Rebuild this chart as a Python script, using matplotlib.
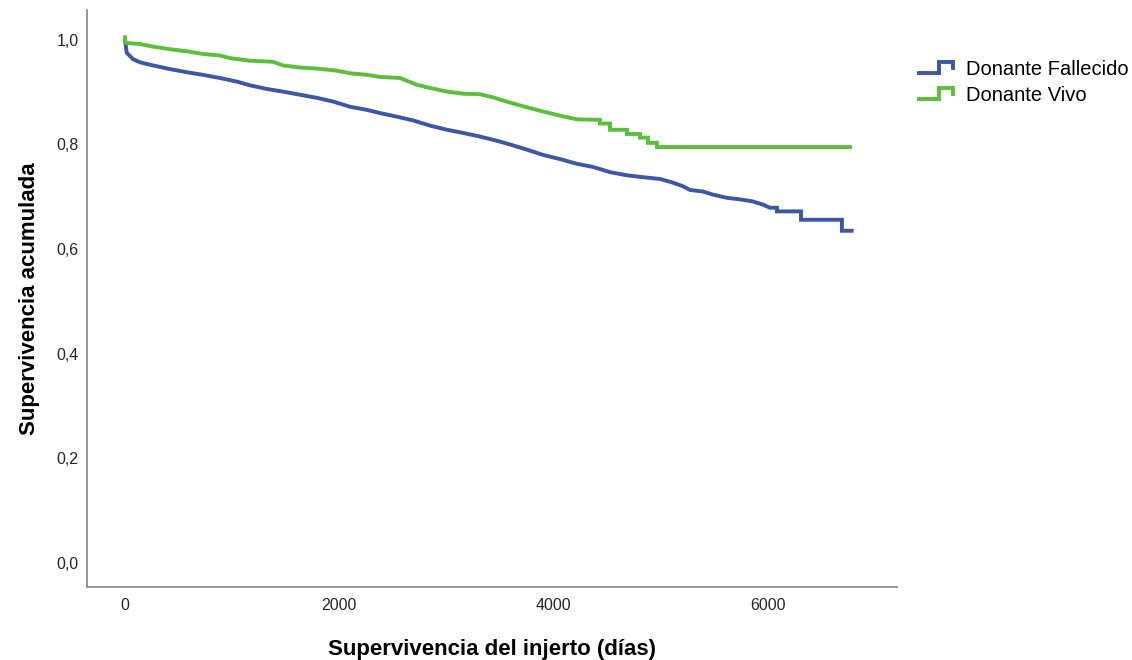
import numpy as np
import matplotlib.pyplot as plt
from matplotlib.lines import Line2D
from matplotlib.legend_handler import HandlerBase

plt.rcParams['font.family'] = ['Liberation Sans', 'DejaVu Sans']

# ---------------- DATA ----------------
# dense part of each curve reads as a near-continuous line, the tail shows real steps
dias_fallecido = [0, 16, 75, 140, 261, 420, 579, 728, 886, 1045, 1166, 1325, 1474,
                  1633, 1792, 1941, 2100, 2258, 2379, 2538, 2687, 2846, 3005, 3154,
                  3313, 3471, 3592, 3751, 3900, 4059, 4217, 4367, 4526, 4684, 4806,
                  4992, 5113, 5207, 5272, 5393, 5487, 5617, 5739, 5860, 5953, 6018,
                  6084, 6084, 6308, 6308, 6690, 6690, 6781]
surv_fallecido = [1.0, 0.975, 0.963, 0.957, 0.951, 0.944, 0.938, 0.933, 0.927, 0.920,
                  0.913, 0.906, 0.901, 0.895, 0.889, 0.882, 0.872, 0.866, 0.860, 0.853,
                  0.846, 0.836, 0.828, 0.822, 0.815, 0.807, 0.800, 0.790, 0.780, 0.772,
                  0.763, 0.757, 0.747, 0.741, 0.738, 0.734, 0.727, 0.720, 0.713, 0.710,
                  0.704, 0.698, 0.695, 0.691, 0.685, 0.679, 0.679, 0.672, 0.672, 0.656,
                  0.656, 0.635, 0.635]

dias_vivo = [0, 0, 16, 140, 261, 420, 579, 728, 886, 980, 1166, 1381, 1474, 1633, 1792,
             1978, 2100, 2258, 2379, 2566, 2725, 2846, 3005, 3154, 3313, 3434, 3592,
             3751, 3900, 4059, 4217, 4432, 4432, 4526, 4526, 4684, 4684, 4806, 4806,
             4880, 4880, 4964, 4964, 6765]
surv_vivo = [1.005, 0.995, 0.994, 0.992, 0.987, 0.982, 0.978, 0.973, 0.970, 0.965, 0.960,
             0.958, 0.951, 0.947, 0.945, 0.941, 0.936, 0.933, 0.929, 0.927, 0.914, 0.908,
             0.901, 0.897, 0.896, 0.890, 0.880, 0.871, 0.863, 0.855, 0.848, 0.847,
             0.840, 0.840, 0.828, 0.828, 0.820, 0.820, 0.813, 0.813, 0.803, 0.803,
             0.795, 0.795]

y_ticks = [0.0, 0.2, 0.4, 0.6, 0.8, 1.0]
y_ticklabels = ["0,0", "0,2", "0,4", "0,6", "0,8", "1,0"]
x_ticks = [0, 2000, 4000, 6000]

BLUE = "#3d56a6"
GREEN = "#5cbf3c"


# step shaped legend key, like SPSS
class StepHandler(HandlerBase):
    def create_artists(self, legend, orig_handle, xdescent, ydescent,
                       width, height, fontsize, trans):
        xs = np.array([0, 0.55, 0.55, 0.96, 0.96]) * width - xdescent
        ys = np.array([0.15, 0.15, 0.9, 0.9, 0.5]) * height - ydescent
        ln = Line2D(xs, ys, color=orig_handle.get_color(),
                    lw=orig_handle.get_linewidth(), solid_joinstyle="miter")
        ln.set_transform(trans)
        return [ln]


# ---------------- PLOT ----------------
fig = plt.figure(figsize=(11.32, 6.6), dpi=100)
ax = fig.add_axes([87 / 1132, 73 / 660, 810 / 1132, 577 / 660])

l1, = ax.plot(dias_fallecido, surv_fallecido, color=BLUE, lw=2.8,
              solid_joinstyle="miter", label="Donante Fallecido")
l2, = ax.plot(dias_vivo, surv_vivo, color=GREEN, lw=2.8,
              solid_joinstyle="miter", label="Donante Vivo")

ax.set_xlim(-355, 7204)
ax.set_ylim(-0.046, 1.057)
ax.set_xticks(x_ticks)
ax.set_yticks(y_ticks)
ax.set_yticklabels(y_ticklabels)
ax.tick_params(length=0, labelsize=11.5, colors="#262626")
ax.tick_params(axis="x", pad=8)
ax.tick_params(axis="y", pad=6)

for s in ["top", "right"]:
    ax.spines[s].set_visible(False)
for s in ["left", "bottom"]:
    ax.spines[s].set_color("#8c8c8c")
    ax.spines[s].set_linewidth(1.3)

ax.set_xlabel("Supervivencia del injerto (días)", fontsize=16, fontweight="bold", labelpad=19)
ax.set_ylabel("Supervivencia acumulada", fontsize=16, fontweight="bold", labelpad=12)

fig.legend(handles=[l1, l2], handler_map={Line2D: StepHandler()},
           loc="upper left", bbox_to_anchor=(901 / 1132, 1 - 42 / 660),
           frameon=False, fontsize=14.5, handlelength=1.75, handletextpad=0.6,
           labelspacing=0.33)

fig.savefig("out.png", dpi=100)
